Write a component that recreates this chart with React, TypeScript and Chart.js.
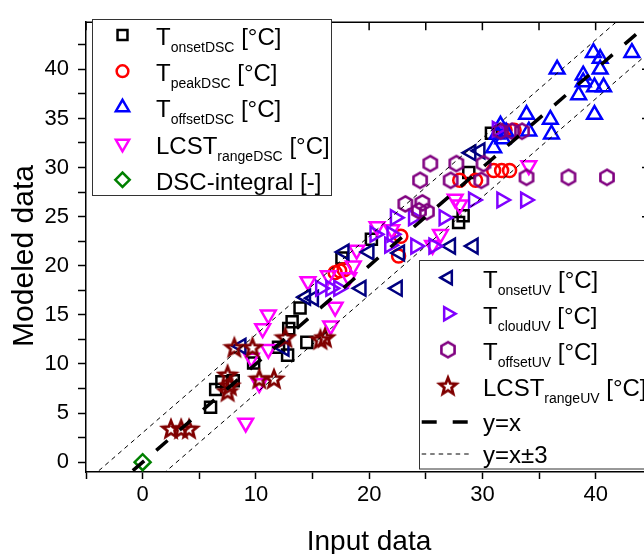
import React, { useEffect, useRef } from 'react';
import { Chart, registerables } from 'chart.js';
import { drawPoint } from 'chart.js/helpers';

Chart.register(...registerables);

const FONT = '"Liberation Sans", Arial, sans-serif';

// ---- axis ranges and tick labels ----
const xRange = [-5, 44.8];
const yRange = [-1, 44.8];
const xTickLabels = [0, 10, 20, 30, 40];
const yTickLabels = [0, 5, 10, 15, 20, 25, 30, 35, 40];

// ---- data ----
const onsetDSC_x = [6.0, 6.45, 7.0, 8.0, 9.8, 12.0, 12.8, 12.9, 13.2, 13.9, 14.5, 17.6, 20.2, 27.9, 28.3, 28.8, 30.8];
const onsetDSC_y = [5.6, 7.4, 8.2, 8.3, 10.1, 11.7, 10.9, 13.6, 14.3, 15.7, 12.2, 20.8, 22.7, 24.4, 25.1, 29.5, 33.5];

const peakDSC_x = [17.0, 17.4, 17.8, 22.6, 22.8, 28.0, 29.4, 31.0, 31.7, 32.4, 32.0, 32.8];
const peakDSC_y = [19.3, 19.5, 19.6, 21.0, 23.0, 28.7, 28.7, 29.7, 29.7, 29.7, 33.8, 33.8];

const offsetDSC_x = [31.0, 31.3, 31.6, 31.8, 32.1, 33.9, 34.1, 36.0, 36.1, 36.6, 38.5, 38.9, 38.9, 39.8, 39.9, 39.9, 40.4, 40.4, 40.7, 43.2];
const offsetDSC_y = [32.0, 33.4, 34.3, 32.9, 33.6, 35.4, 33.7, 34.9, 33.4, 40.0, 37.4, 38.7, 39.4, 41.7, 38.2, 35.4, 41.1, 40.0, 38.2, 41.7];

const lcstDSC_x = [9.1, 9.6, 10.3, 10.6, 11.1, 11.1, 14.6, 16.4, 16.6, 17.0, 18.2, 18.6, 18.9, 20.7, 22.0, 25.6, 26.3, 27.6, 28.0, 34.1];
const lcstDSC_y = [4.0, 10.6, 8.0, 13.6, 15.0, 11.5, 18.4, 19.0, 13.9, 15.8, 18.8, 20.0, 21.6, 24.0, 23.7, 22.1, 23.2, 26.8, 26.2, 30.2];

const integralDSC_x = [0];
const integralDSC_y = [0];

const onsetUV_x = [8.7, 12.5, 14.4, 15.1, 17.8, 19.3, 20.0, 22.5, 22.7, 27.2, 29.2, 29.0, 29.8];
const onsetUV_y = [11.8, 11.6, 16.8, 16.7, 21.4, 17.7, 21.4, 17.7, 21.3, 22.0, 22.0, 31.5, 31.7];

const cloudUV_x = [15.7, 16.6, 17.3, 20.5, 21.8, 22.0, 22.3, 23.9, 24.1, 25.7, 26.6, 29.2, 31.7, 33.8, 31.3];
const cloudUV_y = [17.7, 17.7, 17.7, 23.2, 22.1, 23.2, 24.9, 24.9, 22.0, 22.0, 24.9, 26.7, 26.7, 26.7, 33.9];

const offsetUV_x = [23.2, 24.4, 24.5, 24.7, 25.1, 25.4, 27.2, 27.7, 29.9, 30.1, 31.6, 32.6, 33.5, 33.9, 37.6, 41.0];
const offsetUV_y = [26.3, 25.6, 28.7, 26.4, 25.5, 30.4, 28.7, 30.4, 28.7, 30.4, 33.7, 33.7, 33.7, 29.0, 29.0, 29.0];

const lcstUV_x = [2.5, 3.4, 4.1, 7.5, 7.5, 7.7, 8.1, 9.7, 10.3, 11.6, 12.6, 15.7, 16.1];
const lcstUV_y = [3.4, 3.4, 3.4, 8.9, 7.2, 7.8, 11.7, 11.7, 8.5, 8.5, 12.7, 12.5, 12.7];

const refLine_x = [-5, 45];
const refOffsets = [0, 3, -3];

const zip = (xs: number[], ys: number[]) => xs.map((x, i) => ({ x, y: ys[i] }));

function makeStar(color: string, R: number, r: number, lw: number) {
  const size = 24;
  const c = document.createElement('canvas');
  c.width = size;
  c.height = size;
  const g = c.getContext('2d')!;
  g.translate(size / 2, size / 2 + 0.8);
  g.beginPath();
  for (let i = 0; i < 10; i++) {
    const rad = i % 2 === 0 ? R : r;
    const a = -Math.PI / 2 + (i * Math.PI) / 5;
    const px = rad * Math.cos(a);
    const py = rad * Math.sin(a);
    if (i === 0) g.moveTo(px, py);
    else g.lineTo(px, py);
  }
  g.closePath();
  g.strokeStyle = color;
  g.lineWidth = lw;
  g.lineJoin = 'miter';
  g.stroke();
  return c;
}

function makeHex(color: string, R: number, lw: number) {
  const size = 24;
  const c = document.createElement('canvas');
  c.width = size;
  c.height = size;
  const g = c.getContext('2d')!;
  g.translate(size / 2, size / 2);
  g.beginPath();
  for (let i = 0; i < 6; i++) {
    const a = -Math.PI / 2 + (i * Math.PI) / 3;
    const px = R * Math.cos(a);
    const py = R * Math.sin(a);
    if (i === 0) g.moveTo(px, py);
    else g.lineTo(px, py);
  }
  g.closePath();
  g.strokeStyle = color;
  g.lineWidth = lw;
  g.stroke();
  return c;
}

type Part = { t: string; sub?: boolean };

export default function App() {
  const ref = useRef<HTMLCanvasElement | null>(null);

  useEffect(() => {
    if (!ref.current) return;
    const star = makeStar('#800000', 8.8, 3.8, 2.8);
    const hex = makeHex('#800080', 7.6, 2.6);

    const series = [
      { label: 'onsetDSC', data: zip(onsetDSC_x, onsetDSC_y), color: '#000000', style: 'rect', radius: 7.8, rot: 0 },
      { label: 'peakDSC', data: zip(peakDSC_x, peakDSC_y), color: '#FF0000', style: 'circle', radius: 6.5, rot: 0 },
      { label: 'offsetDSC', data: zip(offsetDSC_x, offsetDSC_y), color: '#0000FF', style: 'triangle', radius: 8.5, rot: 0 },
      { label: 'lcstDSC', data: zip(lcstDSC_x, lcstDSC_y), color: '#FF00FF', style: 'triangle', radius: 8.5, rot: 180 },
      { label: 'integralDSC', data: zip(integralDSC_x, integralDSC_y), color: '#008000', style: 'rectRot', radius: 8, rot: 0 },
      { label: 'onsetUV', data: zip(onsetUV_x, onsetUV_y), color: '#000080', style: 'triangle', radius: 8.5, rot: -90 },
      { label: 'cloudUV', data: zip(cloudUV_x, cloudUV_y), color: '#8000FF', style: 'triangle', radius: 8.5, rot: 90 },
      { label: 'offsetUV', data: zip(offsetUV_x, offsetUV_y), color: '#800080', style: hex as any, radius: 7.6, rot: 0 },
      { label: 'lcstUV', data: zip(lcstUV_x, lcstUV_y), color: '#800000', style: star as any, radius: 8.8, rot: 0 },
    ];

    const BW = 2.5;

    const datasets: any[] = series.map((s, i) => ({
      type: 'scatter',
      label: s.label,
      data: s.data,
      pointStyle: s.style,
      pointRadius: s.radius,
      pointRotation: s.rot,
      pointBorderWidth: BW,
      pointBorderColor: s.color,
      pointBackgroundColor: 'rgba(0,0,0,0)',
      borderColor: s.color,
      backgroundColor: 'rgba(0,0,0,0)',
      showLine: false,
      order: -i,
    }));

    refOffsets.forEach((off, k) => {
      datasets.push({
        type: 'scatter',
        label: off === 0 ? 'y=x' : 'y=x±3',
        data: refLine_x.map((x) => ({ x, y: x + off })),
        showLine: true,
        borderColor: '#000',
        borderWidth: off === 0 ? 3.5 : 1,
        borderDash: off === 0 ? [15, 16] : [4.5, 4],
        pointRadius: 0,
        fill: false,
        clip: 0,
        order: -20 - k,
      });
    });

    const legendSpecs1 = [
      { s: 0, parts: [{ t: 'T' }, { t: 'onsetDSC', sub: true }, { t: ' [°C]' }] },
      { s: 1, parts: [{ t: 'T' }, { t: 'peakDSC', sub: true }, { t: ' [°C]' }] },
      { s: 2, parts: [{ t: 'T' }, { t: 'offsetDSC', sub: true }, { t: ' [°C]' }] },
      { s: 3, parts: [{ t: 'LCST' }, { t: 'rangeDSC', sub: true }, { t: ' [°C]' }] },
      { s: 4, parts: [{ t: 'DSC-integral [-]' }] },
    ];
    const legendSpecs2 = [
      { s: 5, parts: [{ t: 'T' }, { t: 'onsetUV', sub: true }, { t: ' [°C]' }] },
      { s: 6, parts: [{ t: 'T' }, { t: 'cloudUV', sub: true }, { t: ' [°C]' }] },
      { s: 7, parts: [{ t: 'T' }, { t: 'offsetUV', sub: true }, { t: ' [°C]' }] },
      { s: 8, parts: [{ t: 'LCST' }, { t: 'rangeUV', sub: true }, { t: ' [°C]' }] },
    ];

    const drawRich = (ctx: CanvasRenderingContext2D, x: number, y: number, parts: Part[]) => {
      let cx = x;
      ctx.textAlign = 'left';
      ctx.textBaseline = 'alphabetic';
      ctx.fillStyle = '#000';
      for (const p of parts) {
        ctx.font = p.sub ? `14px ${FONT}` : `24px ${FONT}`;
        ctx.fillText(p.t, cx, p.sub ? y + 7 : y);
        cx += ctx.measureText(p.t).width;
      }
    };

    const drawMarker = (ctx: CanvasRenderingContext2D, idx: number, x: number, y: number) => {
      const s = series[idx];
      ctx.save();
      ctx.strokeStyle = s.color;
      ctx.fillStyle = 'rgba(0,0,0,0)';
      ctx.lineWidth = BW;
      drawPoint(ctx, { pointStyle: s.style, radius: s.radius * 0.9, rotation: s.rot, borderWidth: BW } as any, x, y);
      ctx.restore();
    };

    const framePlugin = {
      id: 'frameAndLegends',
      afterDraw(chart: any) {
        const ctx: CanvasRenderingContext2D = chart.ctx;
        const a = chart.chartArea;
        const xs = chart.scales.x;
        const ys = chart.scales.y;
        ctx.save();
        // top and right frame lines
        ctx.strokeStyle = '#000';
        ctx.lineWidth = 1.5;
        ctx.beginPath();
        ctx.moveTo(a.left, a.top);
        ctx.lineTo(a.right, a.top);
        ctx.lineTo(a.right, a.bottom);
        ctx.stroke();
        // inward ticks top / right
        ctx.beginPath();
        for (let v = -5; v <= 40; v += 5) {
          const px = xs.getPixelForValue(v);
          ctx.moveTo(px, a.top);
          ctx.lineTo(px, a.top + 8);
        }
        for (let v = 0; v <= 40; v += 5) {
          const py = ys.getPixelForValue(v);
          ctx.moveTo(a.right, py);
          ctx.lineTo(a.right - 8, py);
        }
        ctx.stroke();

        // axis titles
        ctx.fillStyle = '#000';
        ctx.font = `28px ${FONT}`;
        ctx.textAlign = 'center';
        ctx.textBaseline = 'alphabetic';
        ctx.fillText('Input data', 369, 550);
        ctx.save();
        ctx.translate(33, 256);
        ctx.rotate(-Math.PI / 2);
        ctx.font = `30px ${FONT}`;
        ctx.fillText('Modeled data', 0, 0);
        ctx.restore();

        // legend 1
        ctx.fillStyle = '#fff';
        ctx.fillRect(92.5, 19.5, 239, 176);
        ctx.strokeStyle = '#333';
        ctx.lineWidth = 1;
        ctx.strokeRect(92.5, 19.5, 239, 176);
        legendSpecs1.forEach((L, i) => {
          const cy = 35 + 36.2 * i;
          drawMarker(ctx, L.s, 122.5, cy);
          drawRich(ctx, 156, cy + 10, L.parts);
        });

        // legend 2
        ctx.fillStyle = '#fff';
        ctx.fillRect(419.5, 260.5, 260, 208.5);
        ctx.strokeStyle = '#333';
        ctx.lineWidth = 1;
        ctx.strokeRect(419.5, 260.5, 260, 208.5);
        legendSpecs2.forEach((L, i) => {
          const cy = 277.7 + 36 * i;
          drawMarker(ctx, L.s, 448, cy);
          drawRich(ctx, 483, cy + 10, L.parts);
        });
        // line samples
        ctx.strokeStyle = '#000';
        ctx.lineWidth = 3.5;
        ctx.setLineDash([15, 16]);
        ctx.beginPath();
        ctx.moveTo(421.7, 422);
        ctx.lineTo(469, 422);
        ctx.stroke();
        ctx.lineWidth = 1;
        ctx.setLineDash([4.5, 4]);
        ctx.beginPath();
        ctx.moveTo(421.7, 454);
        ctx.lineTo(470, 454);
        ctx.stroke();
        ctx.setLineDash([]);
        drawRich(ctx, 483, 431, [{ t: 'y=x' }]);
        drawRich(ctx, 483, 463, [{ t: 'y=x±3' }]);
        ctx.restore();
      },
    };

    const chart = new Chart(ref.current, {
      type: 'scatter',
      data: { datasets },
      options: {
        animation: false,
        responsive: false,
        maintainAspectRatio: false,
        devicePixelRatio: 1,
        layout: { padding: { left: 0, top: 14, right: 20, bottom: 0 } },
        plugins: { legend: { display: false }, tooltip: { enabled: false } },
        scales: {
          x: {
            type: 'linear',
            position: 'bottom',
            min: xRange[0],
            max: xRange[1],
            afterFit: (s: any) => {
              s.height = 82;
            },
            ticks: {
              stepSize: 5,
              includeBounds: false,
              autoSkip: false,
              maxTicksLimit: 100,
              maxRotation: 0,
              color: '#000',
              padding: 3,
              font: { family: FONT, size: 22 },
              callback: (v: any) => (xTickLabels.includes(Number(v)) ? String(v) : ''),
            },
            grid: { drawOnChartArea: false, drawTicks: true, tickLength: 7, tickColor: '#000', tickWidth: 1.5 },
            border: { display: true, color: '#000', width: 1.5 },
          },
          y: {
            type: 'linear',
            position: 'left',
            min: yRange[0],
            max: yRange[1],
            afterFit: (s: any) => {
              s.width = 86;
            },
            ticks: {
              stepSize: 2.5,
              includeBounds: false,
              autoSkip: false,
              maxTicksLimit: 100,
              color: '#000',
              padding: 9,
              font: { family: FONT, size: 22 },
              callback: (v: any) => (yTickLabels.includes(Number(v)) ? String(v) : ''),
            },
            grid: { drawOnChartArea: false, drawTicks: true, tickLength: 8, tickColor: '#000', tickWidth: 1.5 },
            border: { display: true, color: '#000', width: 1.5 },
          },
        },
      } as any,
      plugins: [framePlugin],
    });
    return () => chart.destroy();
  }, []);

  return (
    <div
      style={{
        position: 'fixed',
        left: 0,
        top: 0,
        width: 644,
        height: 554,
        overflow: 'hidden',
        background: '#fff',
      }}
    >
      <canvas ref={ref} width={670} height={554} style={{ display: 'block' }} />
    </div>
  );
}
